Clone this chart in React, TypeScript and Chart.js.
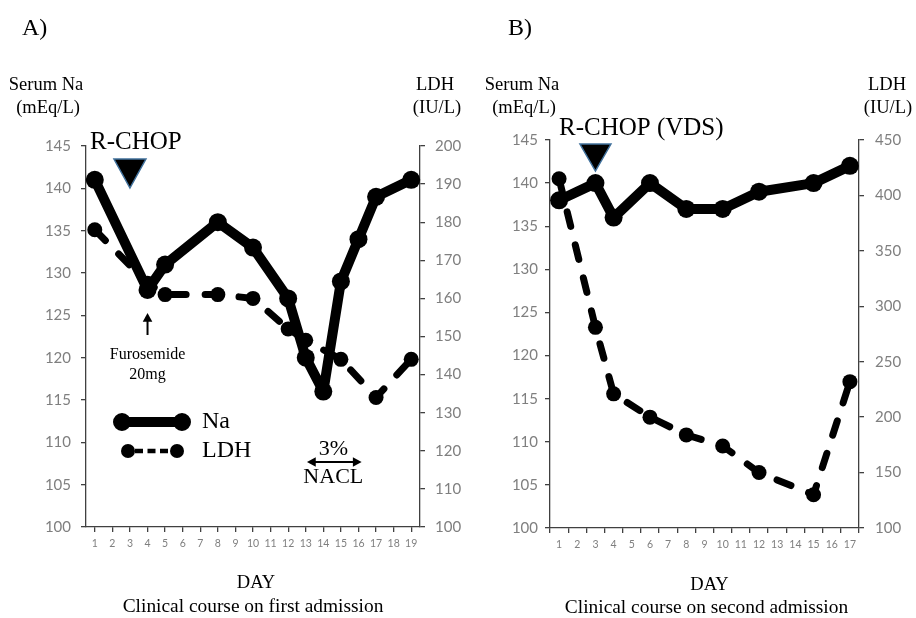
import React, { useEffect, useRef } from "react";
import { Chart, registerables } from "chart.js";

Chart.register(...registerables);

// ---------- DATA ----------
const daysA = ["1", "2", "3", "4", "5", "6", "7", "8", "9", "10", "11", "12", "13", "14", "15", "16", "17", "18", "19"];
const naA = [141, null, null, 128, 131, null, null, 136, null, 133, null, 127, 120, 116, 129, 134, 139, null, 141];
const ldhA = [178, null, null, 164, 161, null, null, 161, null, 160, null, 152, 149, null, 144, null, 134, null, 144];

const daysB = ["1", "2", "3", "4", "5", "6", "7", "8", "9", "10", "11", "12", "13", "14", "15", "16", "17"];
const naB = [138, null, 140, 136, null, 140, null, 137, null, 137, null, 139, null, null, 140, null, 142];
const ldhB = [415, null, 281, 221, null, 200, null, 184, null, 174, null, 150, null, null, 130, null, 232];

const naRange = { min: 100, max: 145, step: 5 };
const ldhRangeA = { min: 100, max: 200, step: 10 };
const ldhRangeB = { min: 100, max: 450, step: 50 };

const AXIS = "#404040";
const TICK = "#7f7f7f";
const SERIF = "'Liberation Serif', 'Times New Roman', serif";
const SANS = "Lato, 'Open Sans', sans-serif";
const H = 618;

type Box = { left: number; right: number; top: number; bottom: number };

function drawTriangle(ctx: CanvasRenderingContext2D, cx: number, top: number, w: number, h: number) {
  ctx.save();
  ctx.beginPath();
  ctx.moveTo(cx - w / 2, top);
  ctx.lineTo(cx + w / 2, top);
  ctx.lineTo(cx, top + h);
  ctx.closePath();
  ctx.fillStyle = "#000";
  ctx.fill();
  ctx.strokeStyle = "#41719C";
  ctx.lineWidth = 1.5;
  ctx.stroke();
  ctx.restore();
}

function text(ctx: CanvasRenderingContext2D, s: string, x: number, y: number, size: number, align: CanvasTextAlign = "center") {
  ctx.save();
  ctx.font = `${size}px ${SERIF}`;
  ctx.fillStyle = "#000";
  ctx.textAlign = align;
  ctx.textBaseline = "middle";
  ctx.fillText(s, x, y);
  ctx.restore();
}

function arrowHead(ctx: CanvasRenderingContext2D, x: number, y: number, dir: number, size: number) {
  ctx.beginPath();
  ctx.moveTo(x, y);
  ctx.lineTo(x - size * Math.cos(dir - 0.5), y - size * Math.sin(dir - 0.5));
  ctx.lineTo(x - size * Math.cos(dir + 0.5), y - size * Math.sin(dir + 0.5));
  ctx.closePath();
  ctx.fill();
}

function annotateA(chart: any) {
  const ctx: CanvasRenderingContext2D = chart.ctx;
  const xs = chart.scales.x;
  const ca = chart.chartArea;
  text(ctx, "A)", 22, 29, 24, "left");
  text(ctx, "Serum Na", 46, 85, 18.5);
  text(ctx, "(mEq/L)", 48, 108, 18.5);
  text(ctx, "LDH", 435, 85, 18.5);
  text(ctx, "(IU/L)", 437, 108, 18.5);
  text(ctx, "R-CHOP", ca.left + 4, 142, 25, "left");
  drawTriangle(ctx, xs.getPixelForValue(2), 159, 32, 29);

  // furosemide arrow at day 4
  const x4 = xs.getPixelForValue(3);
  ctx.save();
  ctx.strokeStyle = "#000";
  ctx.fillStyle = "#000";
  ctx.lineWidth = 2;
  ctx.beginPath();
  ctx.moveTo(x4, 335);
  ctx.lineTo(x4, 320);
  ctx.stroke();
  arrowHead(ctx, x4, 313, -Math.PI / 2, 10);
  ctx.restore();
  text(ctx, "Furosemide", x4, 355, 16);
  text(ctx, "20mg", x4, 375, 16);

  // 3% NACL double arrow
  const xa = xs.getPixelForValue(12.07);
  const xb = xs.getPixelForValue(15.18);
  ctx.save();
  ctx.strokeStyle = "#000";
  ctx.fillStyle = "#000";
  ctx.lineWidth = 2;
  ctx.beginPath();
  ctx.moveTo(xa + 6, 462);
  ctx.lineTo(xb - 6, 462);
  ctx.stroke();
  arrowHead(ctx, xa, 462, Math.PI, 10);
  arrowHead(ctx, xb, 462, 0, 10);
  ctx.restore();
  text(ctx, "3%", (xa + xb) / 2 - 1, 449, 22);
  text(ctx, "NACL", (xa + xb) / 2 - 1, 477, 22);

  // legend
  ctx.save();
  ctx.fillStyle = "#000";
  ctx.strokeStyle = "#000";
  ctx.lineWidth = 10;
  ctx.beginPath();
  ctx.moveTo(122, 422);
  ctx.lineTo(182, 422);
  ctx.stroke();
  ctx.beginPath();
  ctx.arc(122, 422, 9, 0, Math.PI * 2);
  ctx.arc(182, 422, 9, 0, Math.PI * 2);
  ctx.fill();
  ctx.lineWidth = 4.5;
  ctx.setLineDash([8, 4.5]);
  ctx.beginPath();
  ctx.moveTo(135, 451);
  ctx.lineTo(172, 451);
  ctx.stroke();
  ctx.setLineDash([]);
  ctx.beginPath();
  ctx.arc(128, 451, 7, 0, Math.PI * 2);
  ctx.fill();
  ctx.beginPath();
  ctx.arc(177, 451, 7, 0, Math.PI * 2);
  ctx.fill();
  ctx.restore();
  text(ctx, "Na", 202, 422, 24, "left");
  text(ctx, "LDH", 202, 451, 24, "left");

  const cx = (ca.left + ca.right) / 2;
  text(ctx, "DAY", cx + 3, 583, 18.5);
  text(ctx, "Clinical course on first admission", cx, 607, 19.4);
}

function annotateB(chart: any) {
  const ctx: CanvasRenderingContext2D = chart.ctx;
  const xs = chart.scales.x;
  const ca = chart.chartArea;
  text(ctx, "B)", 48, 29, 24, "left");
  text(ctx, "Serum Na", 62, 85, 18.5);
  text(ctx, "(mEq/L)", 64, 108, 18.5);
  text(ctx, "LDH", 427, 85, 18.5);
  text(ctx, "(IU/L)", 428, 108, 18.5);
  text(ctx, "R-CHOP (VDS)", ca.left + 9, 128, 25, "left");
  drawTriangle(ctx, xs.getPixelForValue(2), 144, 31, 27);
  const cx = (ca.left + ca.right) / 2;
  text(ctx, "DAY", cx + 5, 585, 18.5);
  text(ctx, "Clinical course on second admission", cx + 2, 608, 19.4);
}

type PanelProps = {
  left: number;
  width: number;
  box: Box;
  labels: string[];
  na: (number | null)[];
  ldh: (number | null)[];
  ldhRange: { min: number; max: number; step: number };
  gridOffset: boolean;
  leftPad: number;
  rightPad: number;
  annotate: (c: any) => void;
};

function Panel(p: PanelProps) {
  const ref = useRef<HTMLCanvasElement | null>(null);
  useEffect(() => {
    if (!ref.current) return;
    const annot = {
      id: "annot",
      afterDraw: (c: any) => p.annotate(c),
    };
    const chart = new Chart(ref.current, {
      type: "line",
      data: {
        labels: p.labels,
        datasets: [
          {
            label: "Na",
            data: p.na,
            yAxisID: "y",
            borderColor: "#000",
            backgroundColor: "#000",
            borderWidth: 10,
            pointRadius: 9,
            pointBorderWidth: 0,
            pointBackgroundColor: "#000",
            spanGaps: true,
            tension: 0,
            borderJoinStyle: "round",
            borderCapStyle: "round",
          },
          {
            label: "LDH",
            data: p.ldh,
            yAxisID: "y1",
            borderColor: "#000",
            backgroundColor: "#000",
            borderWidth: 7,
            borderDash: [15, 19],
            borderCapStyle: "round",
            borderJoinStyle: "round",
            pointRadius: 7.5,
            pointBorderWidth: 0,
            pointBackgroundColor: "#000",
            spanGaps: true,
            tension: 0,
          },
        ],
      },
      options: {
        responsive: false,
        maintainAspectRatio: false,
        animation: false,
        events: [],
        layout: { padding: { top: p.box.top, left: 0, right: 0, bottom: 0 } },
        plugins: { legend: { display: false }, tooltip: { enabled: false } },
        scales: {
          x: {
            type: "category",
            offset: true,
            grid: {
              offset: p.gridOffset,
              drawOnChartArea: false,
              drawTicks: true,
              tickLength: 5,
              color: AXIS,
              lineWidth: 1.3,
            },
            border: { color: AXIS, width: 1.3 },
            ticks: {
              color: TICK,
              font: { family: SANS, size: 10.5 },
              padding: 5,
              maxRotation: 0,
              autoSkip: false,
            },
            afterFit: (s: any) => {
              s.height = H - p.box.bottom;
            },
          },
          y: {
            position: "left",
            min: naRange.min,
            max: naRange.max,
            grid: { drawOnChartArea: false, drawTicks: true, tickLength: 5, color: AXIS, lineWidth: 1.3 },
            border: { color: AXIS, width: 1.3 },
            ticks: {
              stepSize: naRange.step,
              color: TICK,
              font: { family: SANS, size: 15 },
              padding: p.leftPad,
            },
            afterFit: (s: any) => {
              s.width = p.box.left;
            },
          },
          y1: {
            position: "right",
            min: p.ldhRange.min,
            max: p.ldhRange.max,
            grid: { drawOnChartArea: false, drawTicks: true, tickLength: 5, color: AXIS, lineWidth: 1.3 },
            border: { color: AXIS, width: 1.3 },
            ticks: {
              stepSize: p.ldhRange.step,
              color: TICK,
              font: { family: SANS, size: 15 },
              padding: p.rightPad,
            },
            afterFit: (s: any) => {
              s.width = p.width - p.box.right;
            },
          },
        },
      } as any,
      plugins: [annot],
    });
    return () => chart.destroy();
  }, []);
  return (
    <canvas
      ref={ref}
      width={p.width}
      height={H}
      style={{ position: "absolute", left: p.left, top: 0, width: p.width, height: H }}
    />
  );
}

export default function App() {
  return (
    <div style={{ position: "fixed", left: 0, top: 0, width: 916, height: H, background: "#fff", overflow: "hidden" }}>
      <Panel
        left={0}
        width={470}
        box={{ left: 86, right: 420, top: 146, bottom: 527 }}
        labels={daysA}
        na={naA}
        ldh={ldhA}
        ldhRange={ldhRangeA}
        gridOffset={false}
        leftPad={10}
        rightPad={10}
        annotate={annotateA}
      />
      <Panel
        left={460}
        width={456}
        box={{ left: 90, right: 399, top: 140, bottom: 528 }}
        labels={daysB}
        na={naB}
        ldh={ldhB}
        ldhRange={ldhRangeB}
        gridOffset={true}
        leftPad={7}
        rightPad={11}
        annotate={annotateB}
      />
    </div>
  );
}
